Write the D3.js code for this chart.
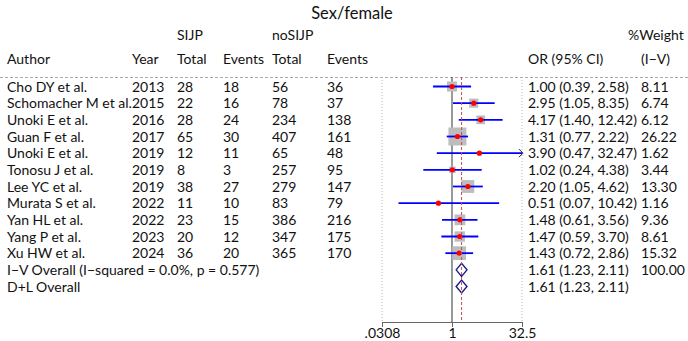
<!DOCTYPE html>
<html>
<head>
<meta charset="utf-8">
<script src="https://cdn.jsdelivr.net/npm/d3@7"></script>
<style>
  body { margin: 0; background: #fff; }
  svg { display: block; font-family: Lato, sans-serif; }
  text { fill: #111; }
</style>
</head>
<body>
<div id="chart"></div>
<script>
// Study rows
const authors = ["Cho DY  et al.", "Schomacher M et al.", "Unoki E et al.", "Guan F et al.", "Unoki E et al.",
  "Tonosu J et al.", "Lee YC et al.", "Murata S et al.", "Yan HL et al.", "Yang P et al.", "Xu HW et al."];
const years = [2013, 2015, 2016, 2017, 2019, 2019, 2019, 2022, 2022, 2023, 2024];
const sijpTotal = [28, 22, 28, 65, 12, 8, 38, 11, 23, 20, 36];
const sijpEvents = [18, 16, 24, 30, 11, 3, 27, 10, 15, 12, 20];
const noTotal = [56, 78, 234, 407, 65, 257, 279, 83, 386, 347, 365];
const noEvents = [36, 37, 138, 161, 48, 95, 147, 79, 216, 175, 170];
const orVal = [1.00, 2.95, 4.17, 1.31, 3.90, 1.02, 2.20, 0.51, 1.48, 1.47, 1.43];
const ciLow = [0.39, 1.05, 1.40, 0.77, 0.47, 0.24, 1.05, 0.07, 0.61, 0.59, 0.72];
const ciHigh = [2.58, 8.35, 12.42, 2.22, 32.47, 4.38, 4.62, 10.42, 3.56, 3.70, 2.86];
const weights = [8.11, 6.74, 6.12, 26.22, 1.62, 3.44, 13.30, 1.16, 9.36, 8.61, 15.32];

// Pooled rows
const pooledLabels = ["I\u2212V Overall  (I\u2212squared = 0.0%, p = 0.577)", "D+L Overall"];
const pooledOr = [1.61, 1.61];
const pooledLow = [1.23, 1.23];
const pooledHigh = [2.11, 2.11];
const pooledWeight = ["100.00", ""];

// Axis
const tickValues = [0.0308, 1, 32.5];
const tickLabels = [".0308", "1", "32.5"];

const W = 688, H = 341;
const fs = "14px";

const svg = d3.select("#chart").append("svg")
  .attr("width", W)
  .attr("height", H);

const x = d3.scaleLog()
  .domain([tickValues[0], tickValues[2]])
  .range([382, 522]);

const nRows = authors.length + pooledLabels.length;
const y = d3.scalePoint()
  .domain(d3.range(nRows))
  .range([86.5, 286.5]);

const fmt = d3.format(".2f");
const ciText = (o, l, h) => `${fmt(o)} (${fmt(l)}, ${fmt(h)})`;

// Title
svg.append("text")
  .attr("x", 352).attr("y", 19)
  .attr("text-anchor", "middle")
  .style("font-size", "16.5px")
  .text("Sex/female");

// Headers
const cols = { author: 7, year: 132, st: 177, se: 223, nt: 272, ne: 327, or: 528, w: 641 };
const head1 = [["SIJP", cols.st], ["noSIJP", cols.nt], ["%Weight", 628]];
const head2 = [["Author", cols.author], ["Year", cols.year], ["Total", cols.st], ["Events", cols.se],
  ["Total", cols.nt], ["Events", cols.ne], ["OR (95% CI)", cols.or], ["(I\u2212V)", cols.w]];
head1.forEach(([t, cx]) => svg.append("text").attr("x", cx).attr("y", 40).style("font-size", fs).text(t));
head2.forEach(([t, cx]) => svg.append("text").attr("x", cx).attr("y", 64).style("font-size", fs).text(t));

// dashed separator
svg.append("line")
  .attr("x1", 0).attr("x2", W)
  .attr("y1", 77.5).attr("y2", 77.5)
  .attr("stroke", "#aaa").attr("stroke-dasharray", "3,2");

const plotTop = 77, plotBottom = 322;

// dotted edge gridlines
[tickValues[0], tickValues[2]].forEach(v => {
  svg.append("line")
    .attr("x1", x(v)).attr("x2", x(v))
    .attr("y1", plotTop).attr("y2", plotBottom)
    .attr("stroke", "#bbb").attr("stroke-dasharray", "1,2");
});

// null line
svg.append("line")
  .attr("x1", x(1)).attr("x2", x(1))
  .attr("y1", plotTop).attr("y2", plotBottom)
  .attr("stroke", "#555").attr("stroke-width", 1.2);

// study rows
const boxK = 18 / Math.sqrt(d3.max(weights));
authors.forEach((a, i) => {
  const cy = y(i);
  const tb = cy + 5;
  [[a, cols.author], [years[i], cols.year], [sijpTotal[i], cols.st], [sijpEvents[i], cols.se],
   [noTotal[i], cols.nt], [noEvents[i], cols.ne],
   [ciText(orVal[i], ciLow[i], ciHigh[i]), cols.or], [fmt(weights[i]), cols.w]]
    .forEach(([t, cx]) => svg.append("text").attr("x", cx).attr("y", tb).style("font-size", fs).text(t));

  const s = boxK * Math.sqrt(weights[i]);
  svg.append("rect")
    .attr("x", x(orVal[i]) - s / 2).attr("y", cy - s / 2)
    .attr("width", s).attr("height", s)
    .attr("fill", "#bdbdbd");

  const hiClamp = Math.min(ciHigh[i], tickValues[2]);
  svg.append("line")
    .attr("x1", x(ciLow[i])).attr("x2", x(hiClamp))
    .attr("y1", cy).attr("y2", cy)
    .attr("stroke", "#0000ff").attr("stroke-width", 1.8);

  if (ciHigh[i] > tickValues[2] * 0.99) {
    const ax = x(tickValues[2]);
    svg.append("path")
      .attr("d", `M${ax - 3},${cy - 4}L${ax + 1},${cy}L${ax - 3},${cy + 4}`)
      .attr("fill", "none").attr("stroke", "#222").attr("stroke-width", 1);
  }

  svg.append("circle")
    .attr("cx", x(orVal[i])).attr("cy", cy).attr("r", 2.6)
    .attr("fill", "#ff0000");
});

// pooled rows
pooledLabels.forEach((lab, j) => {
  const cy = y(authors.length + j);
  const tb = cy + 5;
  svg.append("text").attr("x", cols.author).attr("y", tb).style("font-size", fs).text(lab);
  svg.append("text").attr("x", cols.or).attr("y", tb).style("font-size", fs)
    .text(ciText(pooledOr[j], pooledLow[j], pooledHigh[j]));
  svg.append("text").attr("x", cols.w).attr("y", tb).style("font-size", fs).text(pooledWeight[j]);

  const cx = x(pooledOr[j]);
  svg.append("path")
    .attr("d", `M${x(pooledLow[j])},${cy}L${cx},${cy - 6.5}L${x(pooledHigh[j])},${cy}L${cx},${cy + 6.5}Z`)
    .attr("fill", "#fff").attr("stroke", "#1a1a8c").attr("stroke-width", 1.4);
});

// overall effect dashed line
svg.append("line")
  .attr("x1", x(pooledOr[0])).attr("x2", x(pooledOr[0]))
  .attr("y1", plotTop).attr("y2", plotBottom)
  .attr("stroke", "#c05050").attr("stroke-width", 1)
  .attr("stroke-dasharray", "3,2");

// x axis
const axis = svg.append("g")
  .attr("transform", `translate(0,${plotBottom})`)
  .call(d3.axisBottom(x).tickValues(tickValues).tickFormat((d, i) => tickLabels[i]).tickSizeOuter(0).tickSize(5));
axis.select(".domain").attr("stroke", "#666");
axis.selectAll(".tick line").attr("stroke", "#666");
axis.selectAll(".tick text")
  .style("font-family", "Lato, sans-serif")
  .style("font-size", fs)
  .attr("dy", "0.6em")
  .attr("fill", "#111");
</script>
</body>
</html>
